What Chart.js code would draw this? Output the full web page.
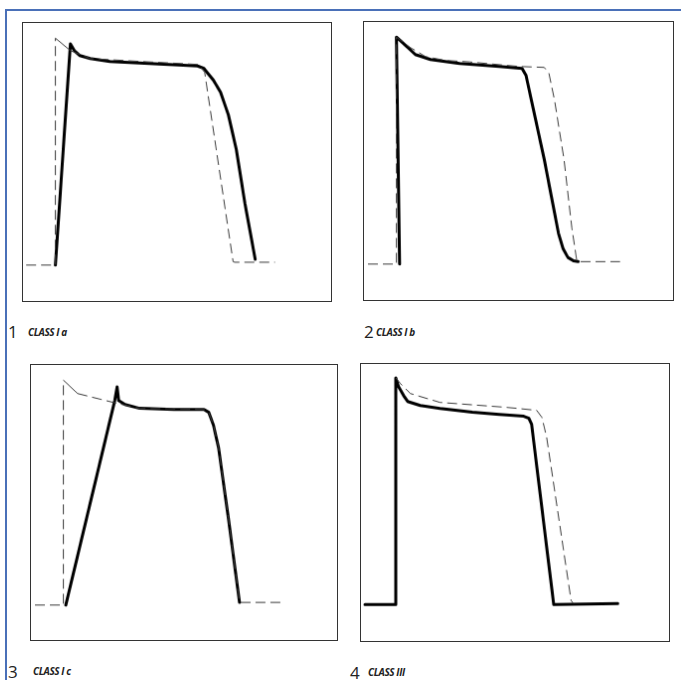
<!DOCTYPE html>
<html>
<head>
<meta charset="utf-8">
<script src="https://cdn.jsdelivr.net/npm/chart.js@4.4.0/dist/chart.umd.min.js"></script>
<style>
  html, body { margin: 0; padding: 0; background: #fff; }
  #page { position: relative; width: 681px; height: 680px; overflow: hidden; font-family: "Open Sans", "Noto Sans", sans-serif; color: #222; }
  #frame { position: absolute; left: 5px; top: 9px; width: 700px; height: 700px; border-left: 2px solid #4a70b8; border-top: 2px solid #4a70b8; }
  canvas { position: absolute; border: 1px solid #333; }
  .num { position: absolute; font-size: 17px; line-height: 17px; }
  .cls { position: absolute; font-size: 10px; line-height: 10px; font-weight: bold; font-style: italic; letter-spacing: -0.4px; }
</style>
</head>
<body>
<div id="page">
  <div id="frame"></div>
</div>
<script>
// Action potentials: time in ms, membrane voltage in mV.
// Dashed = normal AP, thick = AP under the drug class.
let panelNumbers = ['1', '2', '3', '4'];
let panelClasses = ['CLASS I a', 'CLASS I b', 'CLASS I c', 'CLASS III'];

// 1 - class I a
let iaNormalT = [4, 41, 41, 60, 85, 148, 222, 230, 266, 268, 319];
let iaNormalV = [-90, -90, 30, 23.4, 19.2, 17.7, 16.1, 11.9, -88.2, -88.5, -88.5];
let iaDrugT = [41, 60, 65, 72, 85, 110, 160, 221, 229, 241, 250, 260, 270, 281, 294];
let iaDrugV = [-90, 27, 23.4, 20.8, 19.2, 17.7, 16.6, 15.3, 14, 7.8, 1.5, -10.5, -28.7, -57.4, -87];

// 2 - class I b
let ibNormalT = [5, 41, 41, 59, 78, 103, 134, 196, 228, 234, 241, 253, 263, 269, 271, 324];
let ibNormalV = [-90, -90, 30, 24.4, 19.7, 17.7, 16.9, 14.5, 14, 10.9, -3.2, -34.5, -71, -87.6, -88.7, -88.7];
let ibDrugT = [45, 41, 53, 65, 84, 121, 171, 200, 205, 228, 246, 252, 258, 265, 271];
let ibDrugV = [-90, 30, 25.5, 20.8, 18.2, 16.1, 14.5, 13.5, 9.8, -34.5, -73.6, -82, -86.5, -88.3, -88.7];

// 3 - class I c
let icNormalT = [5, 41, 41, 59, 109, 137.5, 219, 225, 231, 237.5, 250, 264, 316];
let icNormalV = [-89, -89, 30, 22.9, 17.7, 15.1, 14.5, 13, 6.2, -5.8, -43.3, -87.6, -87.6];
let icDrugT = [44, 106, 109, 111, 119, 137.5, 181, 219, 225, 231, 237.5, 250, 264];
let icDrugV = [-89, 19.2, 26.5, 19.2, 17.1, 15.1, 14.5, 14.5, 13, 6.2, -5.8, -43.3, -87.6];

// 4 - class III
let iiiNormalT = [44, 50, 62.5, 100, 184, 222.5, 229, 235, 266, 269];
let iiiNormalV = [30.7, 27.6, 22.4, 17.7, 15.1, 13.5, 9.8, -0.6, -87.1, -88.7];
let iiiDrugT = [5, 44, 44, 47.5, 54, 59, 75, 100, 141, 175, 206, 212.5, 216, 244, 325];
let iiiDrugV = [-89.2, -89.2, 30.7, 26, 21.3, 18.2, 16.1, 14.5, 12.5, 11.4, 10.4, 9.3, 6.2, -89.2, -88.7];

function toPoints(ts, vs) {
  return ts.map((t, i) => ({x: t, y: vs[i]}));
}

// box position, axis extent, label position, thin solid segment after the peak
let panels = [
  {left: 22, top: 22, w: 312, h: 282, xMax: 390, yMin: -109, solid: [2],
   nT: iaNormalT, nV: iaNormalV, dT: iaDrugT, dV: iaDrugV, numX: 8, numY: 323, clsX: 28, clsY: 327},
  {left: 363, top: 21, w: 313, h: 282, xMax: 391, yMin: -109, solid: [],
   nT: ibNormalT, nV: ibNormalV, dT: ibDrugT, dV: ibDrugV, numX: 364, numY: 323, clsX: 376, clsY: 327},
  {left: 30, top: 364, w: 310, h: 279, xMax: 387.5, yMin: -107.5, solid: [2],
   nT: icNormalT, nV: icNormalV, dT: icDrugT, dV: icDrugV, numX: 8, numY: 663, clsX: 33, clsY: 666},
  {left: 360, top: 363, w: 312, h: 281, xMax: 390, yMin: -108.5, solid: [],
   nT: iiiNormalT, nV: iiiNormalV, dT: iiiDrugT, dV: iiiDrugV, numX: 350, numY: 664, clsX: 368, clsY: 667}
];

let page = document.getElementById('page');

panels.forEach((p, index) => {
  // Canvas with its box border.
  let canvas = document.createElement('canvas');
  canvas.width = p.w - 2;
  canvas.height = p.h - 2;
  canvas.style.left = p.left + 'px';
  canvas.style.top = p.top + 'px';
  page.appendChild(canvas);

  // Labels under the box.
  let num = document.createElement('div');
  num.className = 'num';
  num.textContent = panelNumbers[index];
  num.style.left = p.numX + 'px';
  num.style.top = p.numY + 'px';
  page.appendChild(num);

  let cls = document.createElement('div');
  cls.className = 'cls';
  cls.textContent = panelClasses[index];
  cls.style.left = p.clsX + 'px';
  cls.style.top = p.clsY + 'px';
  page.appendChild(cls);

  new Chart(canvas, {
    type: 'scatter',
    data: {
      datasets: [
        {
          label: 'normal',
          data: toPoints(p.nT, p.nV),
          showLine: true,
          borderColor: '#3a3a3a',
          borderWidth: 1,
          borderDash: [10, 5],
          pointRadius: 0,
          tension: 0,
          segment: {
            borderDash: ctx => p.solid.includes(ctx.p0DataIndex) ? [] : [10, 5]
          }
        },
        {
          label: panelClasses[index],
          data: toPoints(p.dT, p.dV),
          showLine: true,
          borderColor: '#000',
          borderWidth: 3,
          borderJoinStyle: 'round',
          borderCapStyle: 'round',
          pointRadius: 0,
          tension: 0
        }
      ]
    },
    options: {
      responsive: false,
      animation: false,
      layout: {padding: 0},
      plugins: {legend: {display: false}, tooltip: {enabled: false}},
      scales: {
        x: {type: 'linear', min: 0, max: p.xMax, display: false},
        y: {type: 'linear', min: p.yMin, max: 38, display: false}
      }
    }
  });
});
</script>
</body>
</html>
